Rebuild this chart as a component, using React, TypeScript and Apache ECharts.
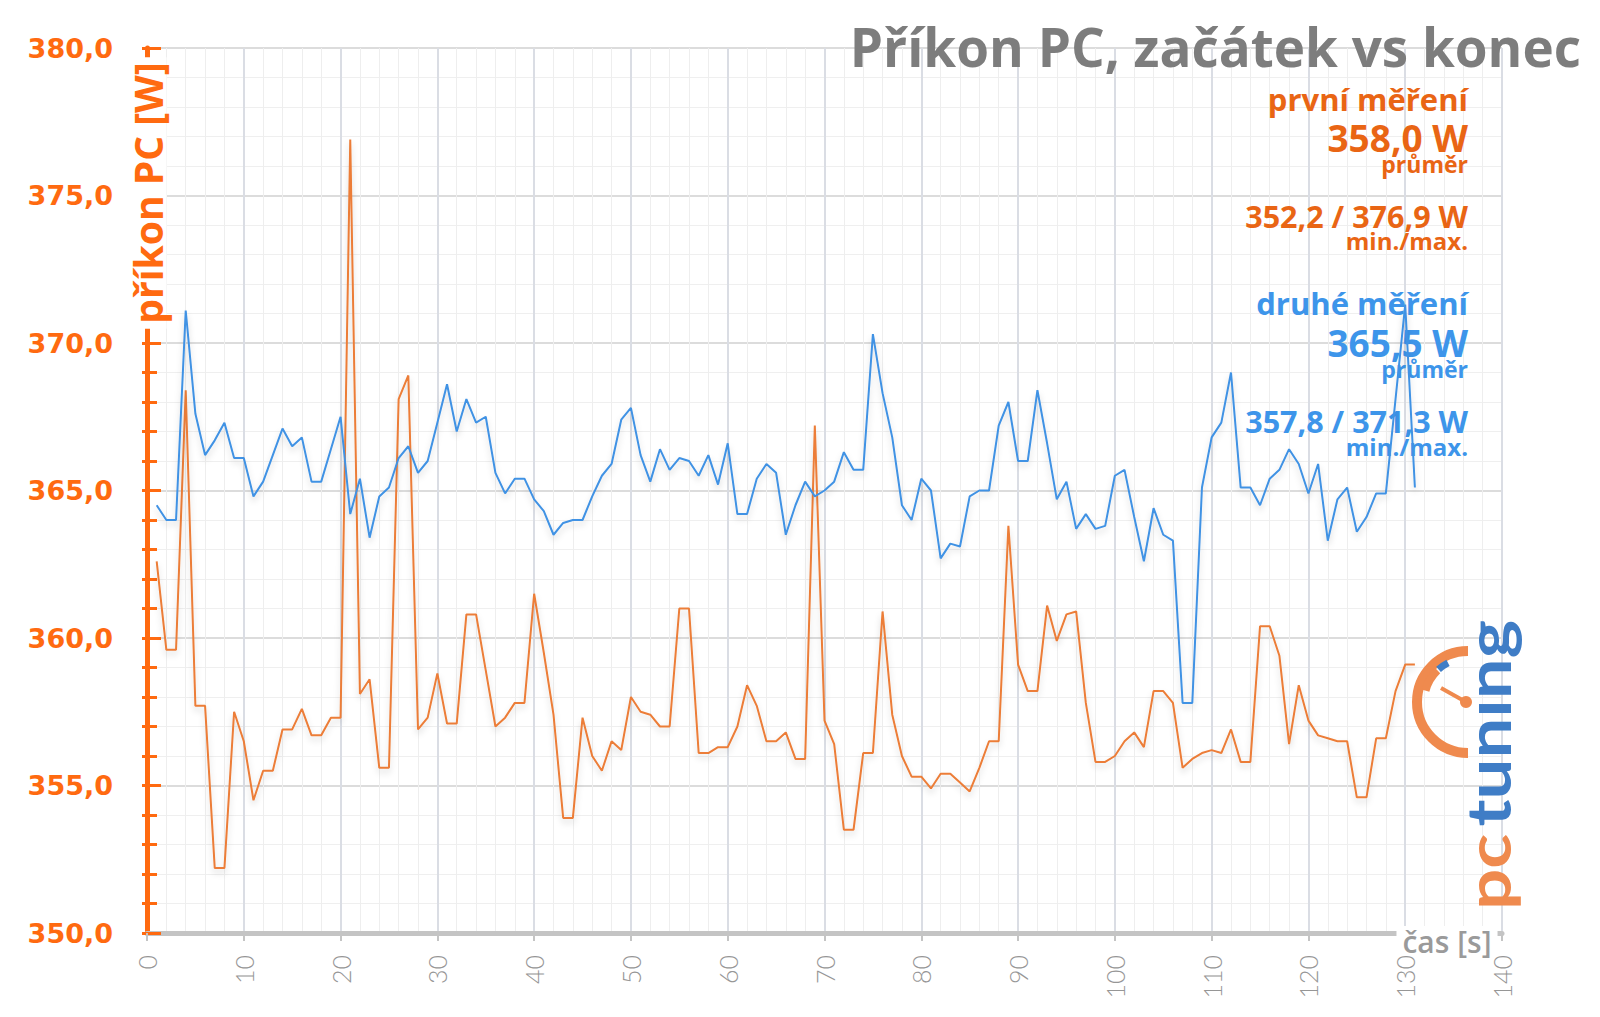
import React, { useEffect, useRef } from "react";
import * as echarts from "echarts";

// ---- data (W), one sample per second, starting at second 1 ----
const FIRST_START_SECOND = 1;
const prvniMereni = [
  362.6, 359.6, 359.6, 368.4, 357.7, 357.7, 352.2, 352.2, 357.5, 356.5,
  354.5, 355.5, 355.5, 356.9, 356.9, 357.6, 356.7, 356.7, 357.3, 357.3,
  376.9, 358.1, 358.6, 355.6, 355.6, 368.1, 368.9, 356.9, 357.3, 358.8,
  357.1, 357.1, 360.8, 360.8, 358.9, 357.0, 357.3, 357.8, 357.8, 361.5,
  359.5, 357.4, 353.9, 353.9, 357.3, 356.0, 355.5, 356.5, 356.2, 358.0,
  357.5, 357.4, 357.0, 357.0, 361.0, 361.0, 356.1, 356.1, 356.3, 356.3,
  357.0, 358.4, 357.7, 356.5, 356.5, 356.8, 355.9, 355.9, 367.2, 357.2,
  356.4, 353.5, 353.5, 356.1, 356.1, 360.9, 357.4, 356.0, 355.3, 355.3,
  354.9, 355.4, 355.4, 355.1, 354.8, 355.6, 356.5, 356.5, 363.8, 359.1,
  358.2, 358.2, 361.1, 359.9, 360.8, 360.9, 357.8, 355.8, 355.8, 356.0,
  356.5, 356.8, 356.3, 358.2, 358.2, 357.8, 355.6, 355.9, 356.1, 356.2,
  356.1, 356.9, 355.8, 355.8, 360.4, 360.4, 359.4, 356.4, 358.4, 357.2,
  356.7, 356.6, 356.5, 356.5, 354.6, 354.6, 356.6, 356.6, 358.2, 359.1,
  359.1,
];
const druheMereni = [
  364.5, 364.0, 364.0, 371.1, 367.6, 366.2, 366.7, 367.3, 366.1, 366.1,
  364.8, 365.3, 366.2, 367.1, 366.5, 366.8, 365.3, 365.3, 366.4, 367.5,
  364.2, 365.4, 363.4, 364.8, 365.1, 366.1, 366.5, 365.6, 366.0, 367.3,
  368.6, 367.0, 368.1, 367.3, 367.5, 365.6, 364.9, 365.4, 365.4, 364.7,
  364.3, 363.5, 363.9, 364.0, 364.0, 364.8, 365.5, 365.9, 367.4, 367.8,
  366.2, 365.3, 366.4, 365.7, 366.1, 366.0, 365.5, 366.2, 365.2, 366.6,
  364.2, 364.2, 365.4, 365.9, 365.6, 363.5, 364.5, 365.3, 364.8, 365.0,
  365.3, 366.3, 365.7, 365.7, 370.3, 368.3, 366.8, 364.5, 364.0, 365.4,
  365.0, 362.7, 363.2, 363.1, 364.8, 365.0, 365.0, 367.2, 368.0, 366.0,
  366.0, 368.4, 366.6, 364.7, 365.3, 363.7, 364.2, 363.7, 363.8, 365.5,
  365.7, 364.1, 362.6, 364.4, 363.5, 363.3, 357.8, 357.8, 365.1, 366.8,
  367.3, 369.0, 365.1, 365.1, 364.5, 365.4, 365.7, 366.4, 365.9, 364.9,
  365.9, 363.3, 364.7, 365.1, 363.6, 364.1, 364.9, 364.9, 368.1, 371.3,
  365.1,
];

// summary figures shown in the legend block
const prvniStats = [358.0, 352.2, 376.9]; // avg, min, max
const druheStats = [365.5, 357.8, 371.3];

// axes
const X_MIN = 0, X_MAX = 140, X_STEP = 10;
const Y_MIN = 350, Y_MAX = 380, Y_STEP = 5;

const TITLE = "Příkon PC, začátek vs konec";
const Y_NAME = "příkon PC [W]";
const X_NAME = "čas [s]";
const NAME_FIRST = "první měření";
const NAME_SECOND = "druhé měření";
const LBL_AVG = "průměr";
const LBL_MINMAX = "min./max.";

const ORANGE_LINE = "#EC7D37";
const BLUE_LINE = "#4092E4";
const ORANGE_TXT = "#E96514";
const BLUE_TXT = "#3D95EA";
const AXIS_ORANGE = "#FF6A10";
const LOGO_ORANGE = "#EF8A4E";
const LOGO_BLUE = "#3F7DC6";

const fmt = (v: number) => v.toFixed(1).replace(".", ",");

function toPoints(vals: number[]) {
  return vals.map((v, i) => [FIRST_START_SECOND + i, v]);
}

function annot(text: string, y: number, size: number, color: string) {
  return {
    type: "text",
    x: 1468,
    y,
    z: 1,
    style: {
      text,
      fill: color,
      font: `bold ${size}px "Open Sans"`,
      lineHeight: Math.round(size * 0.8),
      align: "right",
      textAlign: "right",
      verticalAlign: "middle",
      textVerticalAlign: "middle",
    },
  };
}

export default function App() {
  const ref = useRef<HTMLDivElement>(null);

  useEffect(() => {
    if (!ref.current) return;
    const chart = echarts.init(ref.current, undefined, { renderer: "svg" });

    const lineShadow = {
      shadowColor: "rgba(0,0,0,0.16)",
      shadowBlur: 6,
      shadowOffsetY: 4,
    };

    const logoFont = 'bold 62px "Lato"';

    const graphics: any[] = [
      {
        type: "text",
        x: 1581,
        y: 46,
        z: 1,
        style: {
          text: TITLE,
          fill: "#7d7d7d",
          font: 'bold 53px "Open Sans"',
          lineHeight: 44,
          align: "right",
          textAlign: "right",
          verticalAlign: "middle",
          textVerticalAlign: "middle",
        },
      },
      annot(NAME_FIRST, 99, 31, ORANGE_TXT),
      annot(`${fmt(prvniStats[0])} W`, 137, 37, ORANGE_TXT),
      annot(LBL_AVG, 164, 23, ORANGE_TXT),
      annot(`${fmt(prvniStats[1])} / ${fmt(prvniStats[2])} W`, 216, 30.5, ORANGE_TXT),
      annot(LBL_MINMAX, 240, 24, ORANGE_TXT),
      annot(NAME_SECOND, 303, 31, BLUE_TXT),
      annot(`${fmt(druheStats[0])} W`, 342, 37, BLUE_TXT),
      annot(LBL_AVG, 368.5, 23, BLUE_TXT),
      annot(`${fmt(druheStats[1])} / ${fmt(druheStats[2])} W`, 421, 30.5, BLUE_TXT),
      annot(LBL_MINMAX, 446, 24, BLUE_TXT),
      {
        type: "text",
        x: 147,
        y: 193,
        z: 100,
        rotation: Math.PI / 2,
        style: {
          text: Y_NAME,
          fill: AXIS_ORANGE,
          font: 'bold 39px "Open Sans"',
          align: "center",
          textAlign: "center",
          verticalAlign: "middle",
          textVerticalAlign: "middle",
          backgroundColor: "#ffffff",
          padding: [0, 5],
        },
      },
      {
        type: "text",
        x: 1447,
        y: 941,
        z: 100,
        style: {
          text: X_NAME,
          fill: "#9a9a9a",
          font: '600 30px "Open Sans"',
          align: "center",
          textAlign: "center",
          verticalAlign: "middle",
          textVerticalAlign: "middle",
          backgroundColor: "#ffffff",
          padding: [0, 6],
        },
      },
      // logo gauge
      {
        type: "arc",
        z: 50,
        shape: { cx: 1468, cy: 702, r: 51, startAngle: Math.PI / 2, endAngle: Math.PI * 1.5, clockwise: true },
        style: { stroke: LOGO_ORANGE, lineWidth: 10, fill: null },
      },
      {
        type: "arc",
        z: 50,
        shape: { cx: 1468, cy: 702, r: 44, startAngle: (195 * Math.PI) / 180, endAngle: (226 * Math.PI) / 180, clockwise: true },
        style: { stroke: LOGO_ORANGE, lineWidth: 8, fill: null },
      },
      {
        type: "arc",
        z: 51,
        shape: { cx: 1468, cy: 702, r: 44, startAngle: (228 * Math.PI) / 180, endAngle: (243 * Math.PI) / 180, clockwise: true },
        style: { stroke: LOGO_BLUE, lineWidth: 7, fill: null },
      },
      {
        type: "line",
        z: 50,
        shape: { x1: 1441, y1: 688, x2: 1466, y2: 702 },
        style: { stroke: LOGO_ORANGE, lineWidth: 4 },
      },
      {
        type: "circle",
        z: 50,
        shape: { cx: 1466, cy: 702, r: 6 },
        style: { fill: LOGO_ORANGE },
      },
      {
        type: "text",
        x: 1487,
        y: 910,
        z: 50,
        rotation: Math.PI / 2,
        scaleX: 1.17,
        style: {
          text: "pc",
          fill: LOGO_ORANGE,
          font: logoFont,
          align: "left",
          textAlign: "left",
          verticalAlign: "middle",
          textVerticalAlign: "middle",
        },
      },
      {
        type: "text",
        x: 1487,
        y: 620,
        z: 50,
        rotation: Math.PI / 2,
        scaleX: 1.17,
        style: {
          text: "tunıng",
          fill: LOGO_BLUE,
          font: logoFont,
          align: "right",
          textAlign: "right",
          verticalAlign: "middle",
          textVerticalAlign: "middle",
        },
      },
    ];

    const option: any = {
      animation: false,
      backgroundColor: "#ffffff",
      grid: { left: 147, right: 98, top: 48, bottom: 84 },
      xAxis: {
        type: "value",
        min: X_MIN,
        max: X_MAX,
        interval: X_STEP,
        axisLine: { show: true, lineStyle: { color: "#c4c4c4", width: 5 } },
        axisTick: { show: true, length: 8, lineStyle: { color: "#c4c4c4", width: 2 } },
        minorTick: { show: false, splitNumber: 5 },
        axisLabel: {
          rotate: 90,
          margin: 22,
          color: "#969696",
          fontSize: 25,
          fontFamily: "Lato",
          fontWeight: 300,
        },
        splitLine: { show: true, lineStyle: { color: "#dadde4", width: 2 } },
        minorSplitLine: { show: true, lineStyle: { color: "#eeeeee", width: 1 } },
      },
      yAxis: [
        {
          type: "value",
          min: Y_MIN,
          max: Y_MAX,
          interval: Y_STEP,
          position: "left",
          axisLine: { show: true, lineStyle: { color: AXIS_ORANGE, width: 5 } },
          axisTick: { show: true, inside: true, length: 14, lineStyle: { color: AXIS_ORANGE, width: 3 } },
          minorTick: { show: true, splitNumber: 5, length: 10, lineStyle: { color: AXIS_ORANGE, width: 3 } },
          axisLabel: {
            formatter: (v: number) => fmt(v),
            color: AXIS_ORANGE,
            fontSize: 27,
            fontWeight: "bold",
            fontFamily: "DejaVu Sans",
            margin: 34,
          },
          splitLine: { show: true, lineStyle: { color: "#dcdcdc", width: 2 } },
          minorSplitLine: { show: true, lineStyle: { color: "#efefef", width: 1 } },
        },
        {
          type: "value",
          min: Y_MIN,
          max: Y_MAX,
          interval: Y_STEP,
          position: "left",
          axisLine: { show: false },
          axisTick: { show: true, inside: false, length: 5, lineStyle: { color: AXIS_ORANGE, width: 3 } },
          minorTick: { show: true, splitNumber: 5, length: 5, lineStyle: { color: AXIS_ORANGE, width: 3 } },
          axisLabel: { show: false },
          splitLine: { show: false },
        },
      ],
      series: [
        {
          name: NAME_FIRST,
          type: "line",
          data: toPoints(prvniMereni),
          showSymbol: false,
          symbol: "none",
          lineStyle: { color: ORANGE_LINE, width: 2, ...lineShadow },
          z: 2,
        },
        {
          name: NAME_SECOND,
          type: "line",
          data: toPoints(druheMereni),
          showSymbol: false,
          symbol: "none",
          lineStyle: { color: BLUE_LINE, width: 2, ...lineShadow },
          z: 3,
        },
      ],
      graphic: { elements: graphics },
    };

    chart.setOption(option);
    return () => chart.dispose();
  }, []);

  return (
    <div
      ref={ref}
      style={{ position: "fixed", left: 0, top: 0, width: 1600, height: 1017, background: "#fff" }}
    />
  );
}
